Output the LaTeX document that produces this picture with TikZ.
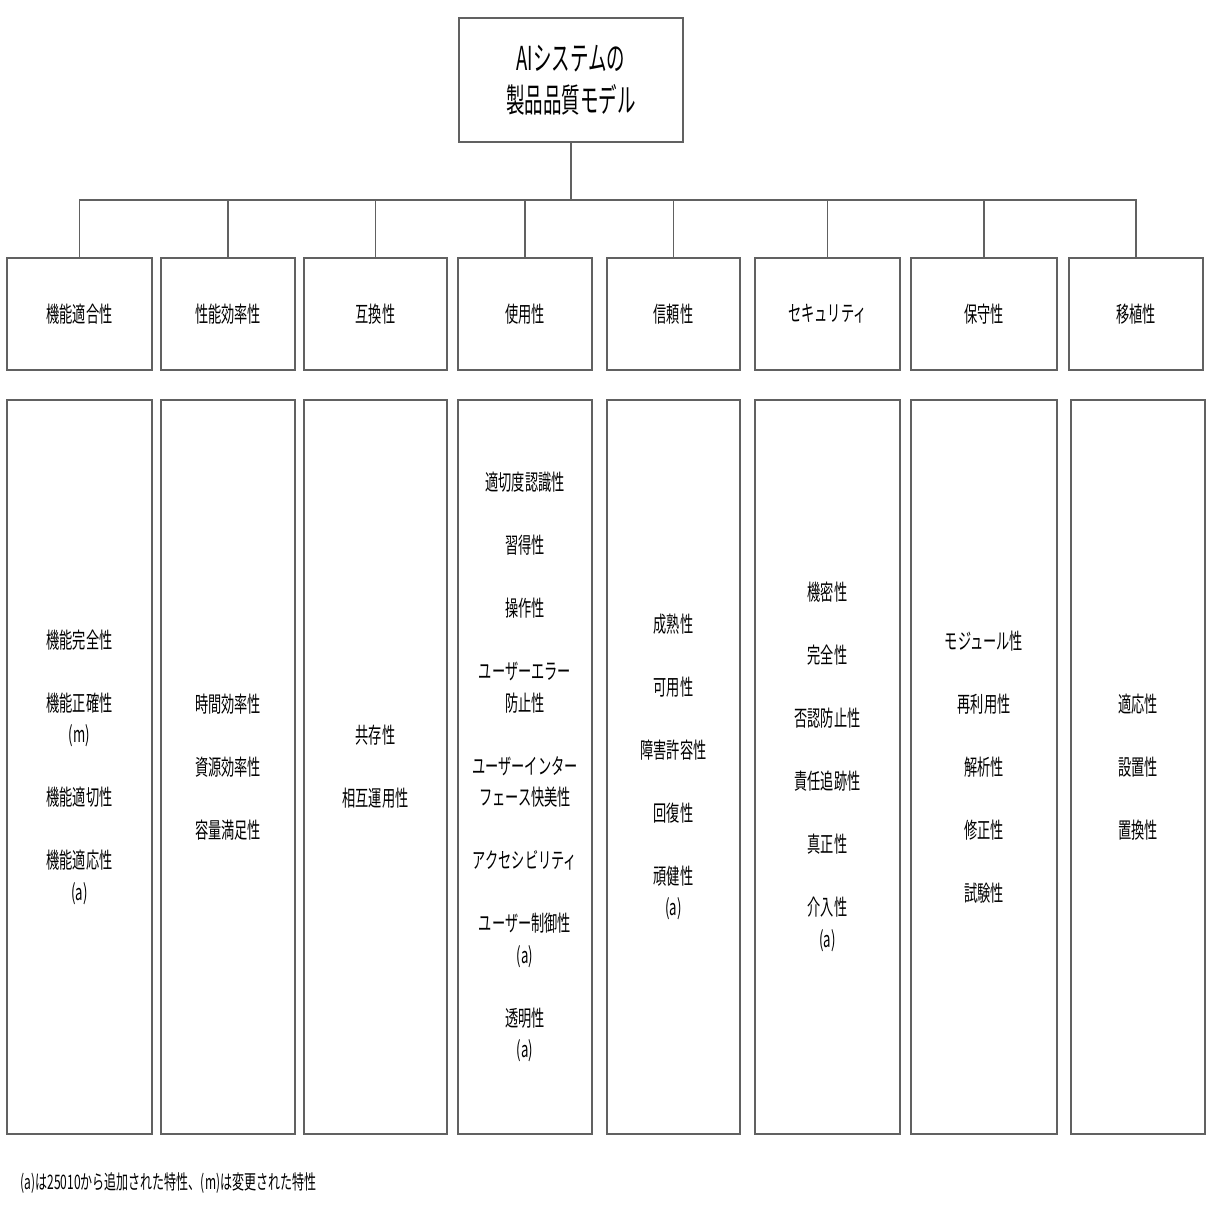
\documentclass[tikz,border=0pt]{standalone}
\usepackage{fontspec}
\setmainfont{Noto Sans CJK JP}[FakeStretch=0.6]
\newfontfamily\rootfont{Noto Sans CJK JP}[FakeStretch=0.56]
\usepackage{tikz}
\usetikzlibrary{positioning}

\newcommand{\qgap}{\\[31.5pt]}

\begin{document}
\begin{tikzpicture}[x=1pt,y=-1pt,line width=1.6pt,
		box/.style={rectangle,draw=black!62,fill=white,inner sep=0pt,align=center},
		root node/.style={box,minimum width=224pt,minimum height=124pt,font=\rootfont\fontsize{33}{42}\selectfont},
		head node/.style={box,minimum height=112pt,font=\fontsize{22}{31.5}\selectfont},
		item node/.style={box,minimum height=734pt,font=\fontsize{22}{31.5}\selectfont},
		link/.style={draw=black!62,line width=1.4pt}]
		
		\useasboundingbox (0,0) rectangle (1209,1209);
		
		\node[root node] (root) at (571,80) {AIシステムの\\製品品質モデル};
		
		\node[head node, minimum width=145pt] (c1) at (79.5,314) {機能適合性};
		\node[head node, minimum width=134pt] (c2) at (228,314) {性能効率性};
		\node[head node, minimum width=143pt] (c3) at (375.5,314) {互換性};
		\node[head node, minimum width=134pt] (c4) at (525,314) {使用性};
		\node[head node, minimum width=133pt] (c5) at (673.5,314) {信頼性};
		\node[head node, minimum width=145pt] (c6) at (827.5,314) {セキュリティ};
		\node[head node, minimum width=146pt] (c7) at (984,314) {保守性};
		\node[head node, minimum width=134pt] (c8) at (1136,314) {移植性};
		
		\node[item node, minimum width=145pt] (d1) at (79.5,767)
		{機能完全性\qgap 機能正確性\\(m)\qgap 機能適切性\qgap 機能適応性\\(a)};
		\node[item node, minimum width=134pt] (d2) at (228,767)
		{時間効率性\qgap 資源効率性\qgap 容量満足性};
		\node[item node, minimum width=143pt] (d3) at (375.5,767)
		{共存性\qgap 相互運用性};
		\node[item node, minimum width=134pt] (d4) at (525,767)
		{適切度認識性\qgap 習得性\qgap 操作性\qgap ユーザーエラー\\防止性\qgap
		 ユーザーインター\\フェース快美性\qgap アクセシビリティ\qgap
		 ユーザー制御性\\(a)\qgap 透明性\\(a)};
		\node[item node, minimum width=133pt] (d5) at (673.5,767)
		{成熟性\qgap 可用性\qgap 障害許容性\qgap 回復性\qgap 頑健性\\(a)};
		\node[item node, minimum width=145pt] (d6) at (827.5,767)
		{機密性\qgap 完全性\qgap 否認防止性\qgap 責任追跡性\qgap 真正性\qgap 介入性\\(a)};
		\node[item node, minimum width=146pt] (d7) at (984,767)
		{モジュール性\qgap 再利用性\qgap 解析性\qgap 修正性\qgap 試験性};
		\node[item node, minimum width=134pt] (d8) at (1138,767)
		{適応性\qgap 設置性\qgap 置換性};
		
		\node[anchor=west, inner sep=0pt, font=\fontsize{20}{24}\selectfont] (note) at (20,1183)
		{(a)は25010から追加された特性、(m)は変更された特性};
		
		\coordinate (bus) at (571,200);
		\path[link] (root) -- (bus);
		\path[link] (c1.north) |- (bus) -| (c8.north);
		\path[link] (c2.north) -- (c2.north |- bus);
		\path[link] (c3.north) -- (c3.north |- bus);
		\path[link] (c4.north) -- (c4.north |- bus);
		\path[link] (c5.north) -- (c5.north |- bus);
		\path[link] (c6.north) -- (c6.north |- bus);
		\path[link] (c7.north) -- (c7.north |- bus);
		\end{tikzpicture}
\end{document}
